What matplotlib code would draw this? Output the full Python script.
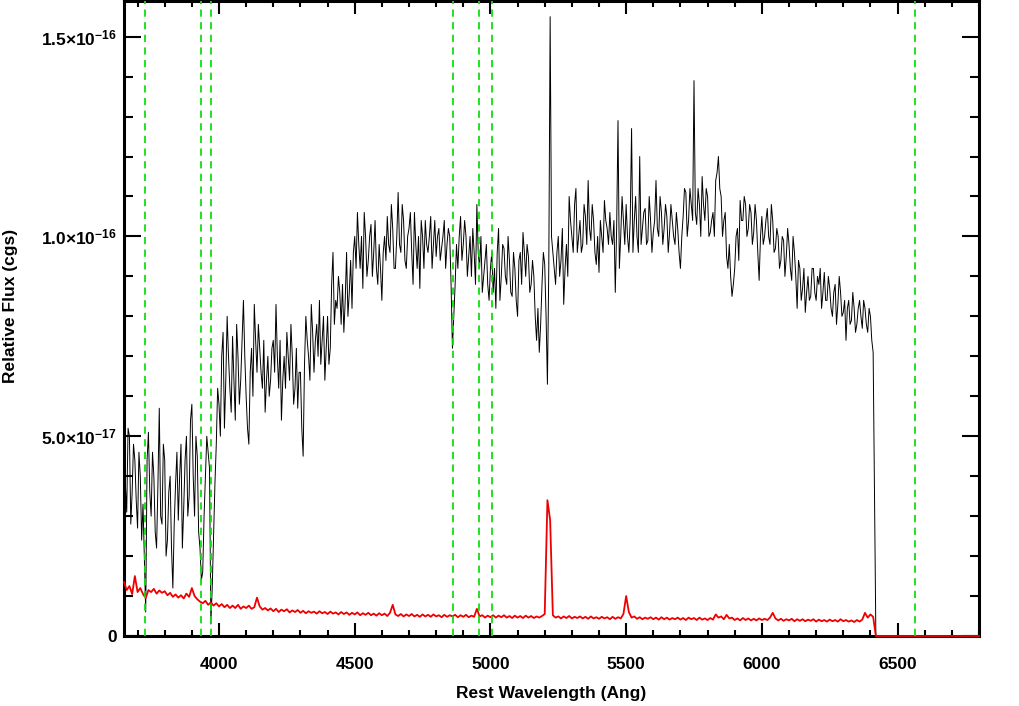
import numpy as np
import matplotlib
matplotlib.use('Agg')
import matplotlib.pyplot as plt
from matplotlib.ticker import FixedLocator, FixedFormatter, MultipleLocator

plt.rcParams['font.family'] = ['Liberation Sans', 'DejaVu Sans']
plt.rcParams['font.weight'] = 'bold'
plt.rcParams['mathtext.fontset'] = 'custom'
plt.rcParams['mathtext.rm'] = 'Liberation Sans:bold'
plt.rcParams['mathtext.it'] = 'Liberation Sans:bold'
plt.rcParams['mathtext.bf'] = 'Liberation Sans:bold'

# rest wavelength grid (Ang), every 5 Ang
wave = np.arange(3650, 6411, 5)

# flux in units of 1e-18 cgs at 3650, 3660, ... 6410
flux = [
    45, 31, 50, 36, 44, 27, 40, 33, 6, 51,
    30, 40, 22, 57, 28, 44, 24, 40, 12, 38,
    29, 48, 32, 50, 35, 58, 30, 45, 22, 16,
    40, 46, 3, 25, 48, 58, 70, 52, 80, 62,
    75, 54, 70, 64, 84, 60, 48, 72, 83, 66,
    72, 62, 56, 70, 64, 74, 83, 62, 54, 70,
    76, 64, 70, 62, 57, 66, 45, 80, 70, 83,
    66, 78, 84, 74, 64, 80, 72, 96, 84, 90,
    78, 76, 96, 86, 82, 100, 106, 92, 87, 100,
    94, 103, 96, 92, 98, 84, 100, 105, 96, 102,
    92, 111, 96, 104, 92, 102, 96, 106, 92, 87,
    100, 104, 96, 105, 98, 95, 102, 97, 104, 98,
    100, 72, 88, 92, 105, 98, 100, 95, 90, 96,
    108, 92, 86, 94, 88, 92, 86, 82, 102, 90,
    97, 88, 94, 85, 92, 80, 96, 101, 90, 95,
    88, 90, 74, 71, 88, 93, 63, 155, 96, 88,
    100, 94, 83, 98, 110, 100, 108, 96, 104, 98,
    105, 114, 99, 104, 93, 91, 100, 109, 102, 106,
    98, 86, 129, 100, 104, 108, 96, 127, 104, 100,
    120, 102, 107, 99, 104, 101, 114, 100, 106, 102,
    105, 101, 104, 98, 102, 92, 105, 111, 104, 108,
    139, 103, 108, 115, 104, 110, 101, 106, 114, 120,
    110, 104, 95, 98, 85, 92, 102, 109, 104, 108,
    102, 106, 101, 104, 89, 105, 100, 107, 98, 104,
    97, 100, 94, 99, 95, 98, 89, 96, 82, 92,
    87, 81, 90, 85, 92, 84, 88, 82, 91, 84,
    87, 80, 88, 83, 86, 81, 74, 84, 79, 82,
    78, 84, 77, 82, 76, 80, 71,
]

# flux at the half steps 3655, 3665, ... 6405
flux_mid = [
    38, 52, 28, 48, 34, 46, 24, 20, 44, 36,
    46, 26, 38, 30, 48, 20, 36, 22, 28, 46,
    40, 22, 44, 30, 54, 40, 50, 26, 14, 30,
    50, 42, 12, 38, 62, 50, 76, 64, 70, 56,
    64, 78, 58, 74, 70, 52, 66, 60, 74, 78,
    66, 74, 64, 60, 72, 66, 70, 74, 64, 62,
    70, 78, 58, 72, 66, 52, 68, 74, 64, 76,
    74, 70, 68, 80, 72, 68, 88, 78, 82, 86,
    88, 84, 80, 94, 96, 92, 98, 100, 106, 90,
    100, 90, 104, 88, 92, 96, 94, 98, 108, 92,
    100, 98, 108, 94, 100, 106, 88, 98, 100, 104,
    92, 98, 100, 92, 104, 100, 94, 100, 92, 102,
    88, 80, 98, 100, 94, 104, 90, 100, 102, 88,
    96, 100, 90, 98, 84, 96, 92, 96, 84, 98,
    90, 100, 86, 96, 84, 94, 88, 96, 98, 86,
    94, 80, 82, 78, 96, 80, 92, 100, 92, 96,
    90, 102, 92, 90, 104, 96, 112, 100, 96, 108,
    98, 102, 108, 96, 100, 104, 96, 104, 98, 100,
    104, 102, 92, 110, 98, 100, 104, 96, 110, 96,
    98, 106, 98, 110, 96, 104, 102, 110, 98, 108,
    96, 108, 100, 106, 96, 100, 112, 100, 112, 104,
    106, 112, 100, 108, 112, 100, 104, 100, 116, 112,
    100, 106, 92, 90, 88, 100, 94, 104, 110, 100,
    108, 98, 108, 96, 100, 98, 104, 100, 108, 96,
    102, 92, 100, 90, 102, 92, 100, 90, 94, 84,
    92, 86, 84, 92, 86, 90, 92, 86, 84, 90,
    82, 86, 78, 90, 80, 84, 82, 78, 86, 76,
    82, 80, 84, 78, 82, 74,
]

# error spectrum at 3650, 3660, ... 6410, same units
err_wave = np.arange(3650, 6411, 10)
error = [
    13.5, 11.5, 12.5, 10.5, 15.0, 11.0, 12.0, 10.5, 9.5, 11.5,
    11.0, 11.8, 10.6, 11.4, 10.8, 11.2, 10.2, 10.8, 9.8, 10.4,
    9.6, 10.2, 9.4, 10.6, 9.8, 12.0, 10.0, 9.2, 8.6, 8.2,
    8.8, 7.8, 8.4, 7.6, 8.2, 7.4, 8.0, 7.2, 7.8, 7.0,
    7.6, 7.0, 7.8, 6.8, 7.4, 7.0, 7.6, 6.8, 7.2, 9.6,
    7.4, 6.6, 7.0, 6.4, 6.9, 6.2, 6.8, 6.0, 6.6, 6.2,
    6.7, 5.9, 6.4, 6.0, 6.5, 5.8, 6.3, 5.7, 6.2, 5.8,
    6.1, 5.6, 6.2, 5.7, 6.0, 5.5, 6.1, 5.6, 5.9, 5.4,
    6.0, 5.5, 5.9, 5.3, 5.8, 5.4, 5.9, 5.2, 5.7, 5.3,
    5.8, 5.2, 5.6, 5.1, 5.7, 5.2, 5.6, 5.0, 5.8, 7.8,
    5.4, 5.0, 5.5, 4.9, 5.4, 5.0, 5.5, 4.9, 5.3, 4.8,
    5.4, 4.9, 5.3, 4.8, 5.4, 4.9, 5.2, 4.7, 5.3, 4.8,
    5.2, 4.9, 5.3, 4.7, 5.2, 4.8, 5.3, 4.7, 5.1, 4.8,
    6.8, 4.9, 5.2, 4.6, 5.1, 4.7, 5.2, 4.6, 5.1, 4.7,
    5.2, 4.6, 5.0, 4.5, 5.1, 4.6, 5.0, 4.5, 5.1, 4.6,
    5.0, 4.5, 4.9, 4.6, 5.0, 5.5, 34.0, 29.0, 5.2, 4.6,
    4.9, 4.4, 4.9, 4.5, 5.0, 4.4, 4.8, 4.5, 4.9, 4.4,
    4.8, 4.3, 4.9, 4.4, 4.7, 4.3, 4.8, 4.4, 4.7, 4.2,
    4.8, 4.3, 4.7, 4.4, 5.5, 10.0, 6.0, 4.6, 4.9, 4.3,
    4.7, 4.2, 4.6, 4.3, 4.7, 4.2, 4.6, 4.1, 4.7, 4.2,
    4.6, 4.1, 4.5, 4.2, 4.6, 4.1, 4.5, 4.0, 4.6, 4.2,
    4.5, 4.0, 4.6, 4.1, 4.4, 4.0, 4.5, 4.1, 5.4, 4.6,
    4.9, 4.2, 5.3, 4.4, 4.6, 4.0, 4.4, 3.9, 4.5, 4.0,
    4.4, 3.9, 4.3, 3.9, 4.4, 4.0, 4.3, 4.0, 4.6, 5.8,
    4.4, 3.9, 4.3, 3.8, 4.2, 3.9, 4.3, 3.7, 4.2, 3.8,
    4.2, 3.7, 4.1, 3.8, 4.2, 3.6, 4.1, 3.7, 4.0, 3.6,
    4.1, 3.7, 4.0, 3.6, 4.2, 3.7, 4.0, 3.6, 3.9, 3.5,
    4.0, 3.6, 4.1, 5.8, 4.6, 5.4, 4.8,
]

# beyond the end of the spectrum everything is zero
tail_wave = [6420, 6800]
tail_val = [0, 0]

# [OII], CaK, CaH, Hbeta, [OIII], [OIII], Halpha
line_waves = [3727, 3934, 3969, 4861, 4959, 5007, 6563]

y_ticks = [0, 5e-17, 1e-16, 1.5e-16]
y_labels = ['0', r'$5.0×10^{-17}$', r'$1.0×10^{-16}$', r'$1.5×10^{-16}$']

# merge the whole and half steps into one spectrum
flux_all = np.empty(len(wave))
flux_all[0::2] = flux
flux_all[1::2] = flux_mid

x = np.concatenate([wave, tail_wave])
f = np.concatenate([flux_all, tail_val]) * 1e-18
xe = np.concatenate([err_wave, tail_wave])
e = np.concatenate([error, tail_val]) * 1e-18

fig = plt.figure(figsize=(10.2, 7.06), dpi=100)
ax = fig.add_axes([124 / 1020, 1 - 636 / 706, (979 - 124) / 1020, 636 / 706 - 0.001])

ax.plot(x, f, color='black', lw=0.7, zorder=2)
ax.plot(xe, e, color='#ee0000', lw=1.3, zorder=3, clip_on=False)
for lw_ in line_waves:
    ax.axvline(lw_, color='#11dd11', lw=1.3, dashes=(4, 3), zorder=4)

ax.set_xlim(3650, 6800)
ax.set_ylim(0, 1.59e-16)

ax.xaxis.set_major_locator(MultipleLocator(500))
ax.xaxis.set_minor_locator(MultipleLocator(100))
ax.yaxis.set_major_locator(FixedLocator(y_ticks))
ax.yaxis.set_major_formatter(FixedFormatter(y_labels))
ax.yaxis.set_minor_locator(MultipleLocator(1e-17))

ax.tick_params(axis='both', which='both', direction='in', top=True, right=True,
               width=1.5, labelsize=12.5)
ax.tick_params(axis='x', which='major', length=9.5, pad=15)
ax.tick_params(axis='x', which='minor', length=4.5)
ax.tick_params(axis='y', which='major', length=12, pad=5)
ax.tick_params(axis='y', which='minor', length=6.5)

for s in ax.spines.values():
    s.set_linewidth(2.2)

ax.set_xlabel('Rest Wavelength (Ang)', fontsize=12.5, fontweight='bold', labelpad=10)
ax.set_ylabel('Relative Flux (cgs)', fontsize=12.5, fontweight='bold')
ax.yaxis.set_label_coords(-0.124, 0.52)

fig.savefig('out.png', dpi=100)
